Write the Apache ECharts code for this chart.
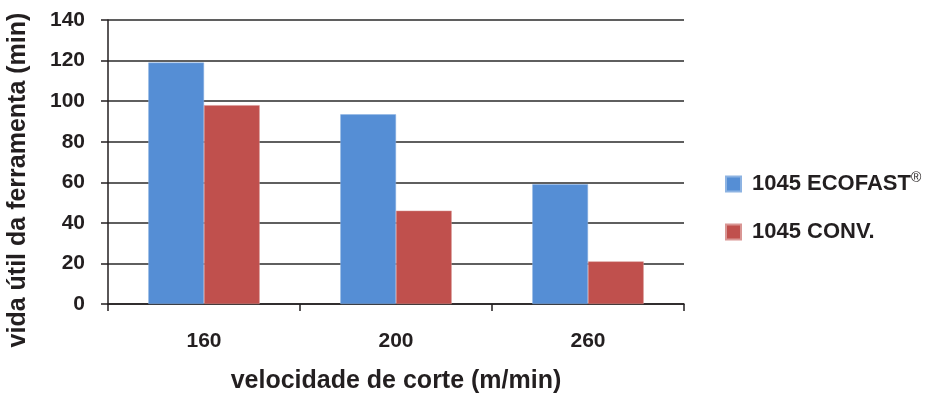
<!DOCTYPE html>
<html>
<head>
<meta charset="utf-8">
<script src="https://cdn.jsdelivr.net/npm/echarts@6/dist/echarts.min.js"></script>
<style>html,body{margin:0;padding:0;background:#fff}#c{width:945px;height:394px}</style>
</head>
<body>
<div id="c"></div>
<script>
const categories = ['160', '200', '260'];
const seriesNames = ['1045 ECOFAST®', '1045 CONV.'];
const ecofast = [119, 93.5, 59];
const conv = [98, 46, 21];
const yTicks = [0, 20, 40, 60, 80, 100, 120, 140];

const txt = '#231f20';
const font = '"Liberation Sans", Arial, Helvetica, sans-serif';
const chart = echarts.init(document.getElementById('c'), null, {renderer: 'canvas'});
chart.setOption({
  animation: false,
  backgroundColor: '#fff',
  textStyle: {fontFamily: font},
  grid: {left: 108, right: 261, top: 20, bottom: 90, containLabel: false, outerBoundsMode: 'none'},
  legend: {
    orient: 'vertical', left: 720, top: 166, itemWidth: 15, itemHeight: 15, itemGap: 26,
    icon: 'rect',
    formatter: n => n.replace('®', '{sup|®}'),
    textStyle: {color: txt, fontSize: 22, fontWeight: 'bold', fontFamily: font, padding: [0,0,0,6],
      rich: {sup: {fontSize: 14, fontWeight: 'normal', color: txt, verticalAlign: 'top', padding: [0,0,12,0]}}},
    data: seriesNames
  },
  xAxis: {
    type: 'category', data: categories,
    name: 'velocidade de corte (m/min)', nameLocation: 'middle', nameGap: 65,
    nameTextStyle: {color: txt, fontSize: 25, fontWeight: 'bold', fontFamily: font},
    axisLine: {lineStyle: {color: txt, width: 1.5}},
    axisTick: {show: true, length: 7, lineStyle: {color: txt, width: 1.5}},
    axisLabel: {color: txt, fontSize: 21, fontWeight: 'bold', margin: 27, fontFamily: font}
  },
  yAxis: {
    type: 'value', min: yTicks[0], max: yTicks[yTicks.length-1], interval: 20,
    name: 'vida útil da ferramenta (min)', nameLocation: 'middle', nameGap: 77,
    nameTextStyle: {color: txt, fontSize: 25, fontWeight: 'bold', fontFamily: font, padding: [0, 36, 0, 0]},
    axisLine: {show: true, lineStyle: {color: txt, width: 1.5}},
    axisTick: {show: true, length: 7, lineStyle: {color: txt, width: 1.5}},
    axisLabel: {color: txt, fontSize: 21, fontWeight: 'bold', margin: 23, fontFamily: font},
    splitLine: {lineStyle: {color: '#2a2a2a', width: 1.5}}
  },
  series: [
    {name: seriesNames[0], type: 'bar', data: ecofast, barGap: '0%', barCategoryGap: '42%',
     itemStyle: {color: '#558ed5', borderColor: '#8db3e2', borderWidth: 0.5}},
    {name: seriesNames[1], type: 'bar', data: conv, barGap: '0%', barCategoryGap: '42%',
     itemStyle: {color: '#c0504d', borderColor: '#d99694', borderWidth: 0.5}}
  ]
});
</script>
</body>
</html>
